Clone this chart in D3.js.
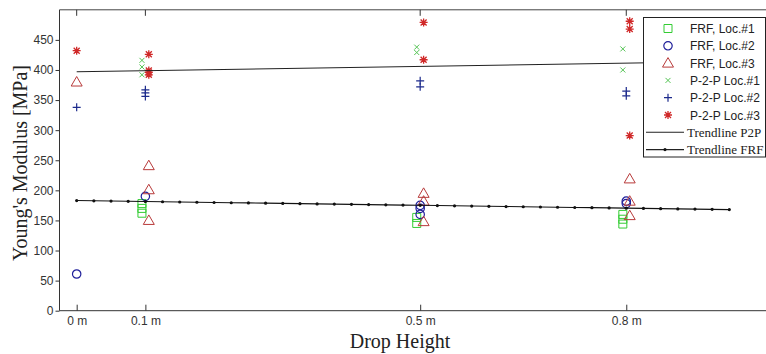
<!DOCTYPE html>
<html><head><meta charset="utf-8">
<script src="https://cdn.jsdelivr.net/npm/d3@7"></script>
<style>
body{margin:0;background:#fff;}
svg{display:block;}
</style></head>
<body>
<svg id="c" width="766" height="354"></svg>
<script>
// ---- data ----
const xTickValues = [0, 0.1, 0.5, 0.8];
const xTickLabels = ["0 m", "0.1 m", "0.5 m", "0.8 m"];
const yTickValues = [0, 50, 100, 150, 200, 250, 300, 350, 400, 450];

const frf1X = [0.095, 0.095, 0.095, 0.495, 0.495, 0.795, 0.795, 0.795];
const frf1Y = [178, 170, 162, 155, 145, 160, 152, 144];
const frf2X = [0, 0.1, 0.5, 0.5, 0.5, 0.8, 0.8];
const frf2Y = [61, 190, 175, 170, 160, 182, 178];
const frf3X = [0, 0.105, 0.105, 0.105, 0.505, 0.505, 0.505, 0.805, 0.805, 0.805];
const frf3Y = [380, 241, 201, 150, 195, 182, 148, 219, 182, 158];
const p2p1X = [0.095, 0.095, 0.095, 0.495, 0.495, 0.795, 0.795];
const p2p1Y = [416, 405, 392, 438, 429, 435, 400];
const p2p2X = [0, 0.1, 0.1, 0.1, 0.5, 0.5, 0.8, 0.8];
const p2p2Y = [338, 367, 362, 356, 382, 372, 365, 357];
const p2p3X = [0, 0.105, 0.105, 0.105, 0.105, 0.505, 0.505, 0.805, 0.805, 0.805];
const p2p3Y = [432, 426, 399, 396, 392, 479, 417, 481, 468, 291];

const trendP2PX = [0, 0.95];
const trendP2PY = [397, 414];
const trendFRFX = [0,0.025,0.05,0.075,0.1,0.125,0.15,0.175,0.2,0.225,
  0.25,0.275,0.3,0.325,0.35,0.375,0.4,0.425,0.45,0.475,
  0.5,0.525,0.55,0.575,0.6,0.625,0.65,0.675,0.7,0.725,
  0.75,0.775,0.8,0.825,0.85,0.875,0.9,0.925,0.95];
const trendFRFY = [183.0,182.6,182.2,181.8,181.4,181.0,180.6,180.2,179.8,179.4,
  179.1,178.7,178.3,177.9,177.5,177.1,176.7,176.3,175.9,175.5,
  175.1,174.7,174.3,173.9,173.5,173.1,172.7,172.3,171.9,171.5,
  171.2,170.8,170.4,170.0,169.6,169.2,168.8,168.4,168.0];

const legendLabels = ["FRF, Loc.#1","FRF, Loc.#2","FRF, Loc.#3","P-2-P Loc.#1","P-2-P Loc.#2","P-2-P Loc.#3","Trendline P2P","Trendline FRF"];

// ---- drawing ----
const svg = d3.select("#c");
const L = 59.5, T = 9.8, B = 310.7;
const x = d3.scaleLinear().domain([-0.025, 1.05]).range([L, L + 687 * 1.075]);
const y = d3.scaleLinear().domain([0, 500]).range([B, T]);

const sans = "'Liberation Sans', Arial, sans-serif";
const serif = "'Liberation Serif', 'Times New Roman', serif";

// marker path generators (centered at 0,0)
const shapes = {
  square: () => "M-4,-4H4V4H-4Z",
  circle: () => "M4.2,0A4.2,4.2 0 1,1 -4.2,0A4.2,4.2 0 1,1 4.2,0Z",
  triangle: () => "M0,-5.5L5.5,4L-5.5,4Z",
  xmark: () => "M-2.5,-2.5L2.5,2.5M-2.5,2.5L2.5,-2.5",
  plus: () => "M-4,0H4M0,-4V4",
  star: () => "M-4,0H4M0,-4V4M-3,-3L3,3M-3,3L3,-3"
};

const series = [
  {xs: frf1X, ys: frf1Y, shape: "square", color: "#33cc33", w: 1},
  {xs: frf2X, ys: frf2Y, shape: "circle", color: "#1f1f9a", w: 1.2},
  {xs: frf3X, ys: frf3Y, shape: "triangle", color: "#b83a3a", w: 1},
  {xs: p2p1X, ys: p2p1Y, shape: "xmark", color: "#55c455", w: 1},
  {xs: p2p2X, ys: p2p2Y, shape: "plus", color: "#1c2a8c", w: 1.2},
  {xs: p2p3X, ys: p2p3Y, shape: "star", color: "#d02828", w: 1.3}
];

// axes frame: top line
svg.append("line").attr("x1", L).attr("x2", 766).attr("y1", T).attr("y2", T)
  .attr("stroke", "#444").attr("stroke-width", 1);

// points
series.forEach(s => {
  svg.append("g").selectAll("path").data(s.xs.map((v, i) => [v, s.ys[i]])).join("path")
    .attr("transform", d => `translate(${x(d[0])},${y(d[1])})`)
    .attr("d", shapes[s.shape]())
    .attr("fill", "none").attr("stroke", s.color).attr("stroke-width", s.w);
});

// trendlines
const line = d3.line().x(d => x(d[0])).y(d => y(d[1]));
svg.append("path").datum(trendP2PX.map((v, i) => [v, trendP2PY[i]]))
  .attr("d", line).attr("fill", "none").attr("stroke", "#222").attr("stroke-width", 1.1);
const frfData = trendFRFX.map((v, i) => [v, trendFRFY[i]]);
svg.append("path").datum(frfData)
  .attr("d", line).attr("fill", "none").attr("stroke", "#111").attr("stroke-width", 1.1);
svg.append("g").selectAll("circle").data(frfData).join("circle")
  .attr("cx", d => x(d[0])).attr("cy", d => y(d[1])).attr("r", 1.6).attr("fill", "#111");

// x axis
const xAxis = d3.axisBottom(x).tickValues(xTickValues)
  .tickFormat((d, i) => xTickLabels[i]).tickSizeInner(-6).tickSizeOuter(0).tickPadding(6);
const gx = svg.append("g").attr("transform", `translate(0,${B})`).call(xAxis);
gx.select(".domain").attr("d", `M${L},0H766`).attr("stroke", "#333");
gx.selectAll(".tick line").attr("stroke", "#333");
gx.selectAll("text").attr("font-family", sans).attr("font-size", 12).attr("fill", "#333");

// top ticks
svg.append("g").selectAll("line").data(xTickValues).join("line")
  .attr("x1", d => x(d)).attr("x2", d => x(d)).attr("y1", T).attr("y2", T + 6)
  .attr("stroke", "#333");

// y axis
const yAxis = d3.axisLeft(y).tickValues(yTickValues).tickSizeInner(4).tickSizeOuter(0).tickPadding(2);
const gy = svg.append("g").attr("transform", `translate(${L},0)`).call(yAxis);
gy.select(".domain").attr("d", `M0,${B}V${T}`).attr("stroke", "#333");
gy.selectAll(".tick line").attr("stroke", "#333");
gy.selectAll("text").attr("font-family", sans).attr("font-size", 12).attr("fill", "#333");

// axis titles
svg.append("text").attr("x", 400).attr("y", 348).attr("text-anchor", "middle")
  .attr("font-family", serif).attr("font-size", 20).attr("fill", "#222").text("Drop Height");
svg.append("text").attr("transform", "translate(27,163) rotate(-90)").attr("text-anchor", "middle")
  .attr("font-family", serif).attr("font-size", 20).attr("fill", "#222").text("Young's Modulus [MPa]");

// legend
const lg = svg.append("g");
lg.append("rect").attr("x", 643.5).attr("y", 17.5).attr("width", 122).attr("height", 139.5)
  .attr("fill", "#fff").attr("stroke", "#222").attr("stroke-width", 1);
const rowY = i => 28.5 + i * 17.3;
series.forEach((s, i) => {
  lg.append("path").attr("transform", `translate(668,${rowY(i)})`).attr("d", shapes[s.shape]())
    .attr("fill", "none").attr("stroke", s.color).attr("stroke-width", s.w);
  lg.append("text").attr("x", 690).attr("y", rowY(i) + 4.5)
    .attr("font-family", sans).attr("font-size", 12).attr("fill", "#222").text(legendLabels[i]);
});
[6, 7].forEach(i => {
  lg.append("line").attr("x1", 646).attr("x2", 684).attr("y1", rowY(i)).attr("y2", rowY(i))
    .attr("stroke", "#222").attr("stroke-width", 1.1);
  if (i === 7) lg.append("circle").attr("cx", 665).attr("cy", rowY(i)).attr("r", 1.6).attr("fill", "#111");
  lg.append("text").attr("x", 687).attr("y", rowY(i) + 4.5)
    .attr("font-family", serif).attr("font-size", 13).attr("fill", "#222").text(legendLabels[i]);
});
</script>
</body></html>
